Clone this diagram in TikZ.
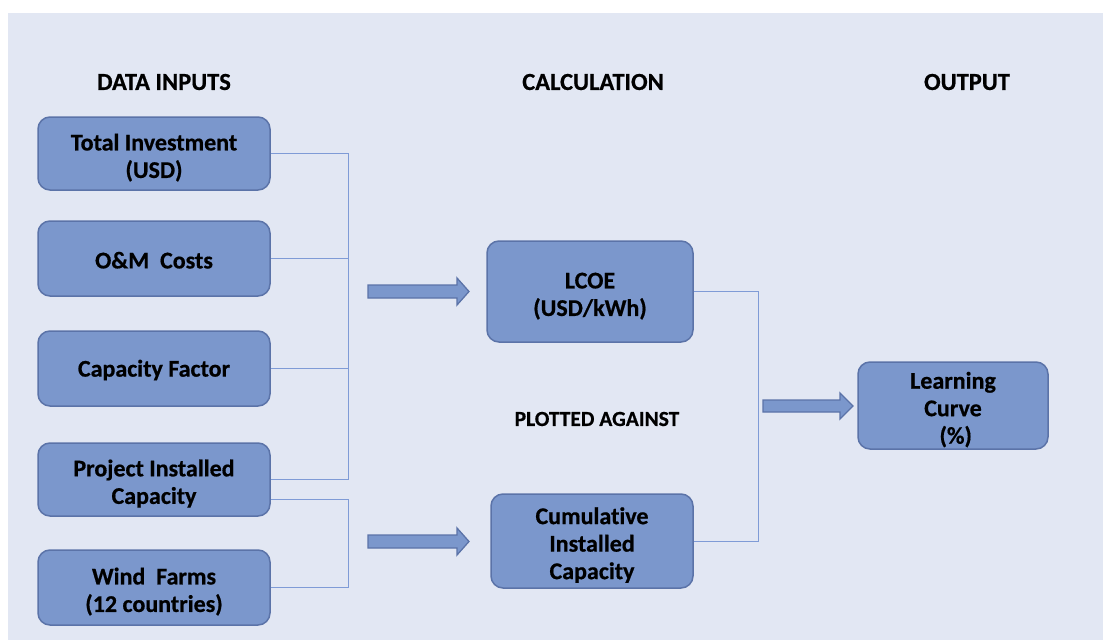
\documentclass[tikz,border=0pt]{standalone}
\usepackage{fontspec}
\setmainfont{Carlito}
\newfontfamily\heavy{Carlito Bold}[FakeBold=0.6, Ligatures=NoCommon]
\definecolor{bgc}{HTML}{E2E7F3}
\definecolor{boxfill}{HTML}{7B97CC}
\definecolor{boxdraw}{HTML}{5B73A8}
\definecolor{linec}{HTML}{7F9BD6}
\newcommand{\topstrut}{\rule{0pt}{25pt}}
\begin{document}
\begin{tikzpicture}[x=1pt,y=-1pt,
  box/.style={draw=boxdraw, fill=boxfill, line width=1.5pt, rounded corners=12pt,
    align=center, inner sep=0pt, font=\heavy\fontsize{24}{27.5}\selectfont},
  head/.style={font=\heavy\fontsize{24.5}{28}\selectfont},
  conn/.style={draw=linec, line width=1pt},
  blockarrow/.style={draw=boxdraw, fill=boxfill, line width=1.3pt, line join=miter}]
\useasboundingbox (0,0) rectangle (1103,640);
\fill[white] (0,0) rectangle (1103,640);
\fill[bgc] (8,13) rectangle (1103,640);
% headings
\node[head] (h1) at (164,82) {DATA INPUTS};
\node[head] (h2) at (593,82) {CALCULATION};
\node[head] (h3) at (967,82) {OUTPUT};
\node[font=\heavy\fontsize{21.5}{25}\selectfont] (pa) at (597,419) {PLOTTED AGAINST};
% input boxes
\node[box, minimum width=232, minimum height=73] (ti) at (154,153.5) {\topstrut Total Investment\\(USD)};
\node[box, minimum width=232, minimum height=75] (om) at (154,258.5) {\rule{0pt}{20pt}O\&M~~Costs};
\node[box, minimum width=232, minimum height=75] (cf) at (154,368.5) {\rule{0pt}{20pt}Capacity Factor};
\node[box, minimum width=232, minimum height=73] (pic) at (154,479.5) {\topstrut Project Installed\\Capacity};
\node[box, minimum width=232, minimum height=75] (wf) at (154,587.5) {\topstrut Wind~~Farms\\(12 countries)};
% calculation boxes
\node[box, minimum width=206, minimum height=101] (lcoe) at (590,291.5) {\topstrut LCOE\\(USD/kWh)};
\node[box, minimum width=202, minimum height=94] (cum) at (592,541) {\topstrut Cumulative\\Installed\\Capacity};
% output
\node[box, minimum width=190, minimum height=87] (lc) at (953,405.5) {\topstrut Learning\\Curve\\\ (\%)};
% junctions
\coordinate (j1t) at (348,153.5);
\coordinate (j1b) at (348,479);
\coordinate (j2t) at (348,499);
\coordinate (j2b) at (348,587.5);
\coordinate (j3t) at (758,291.5);
\coordinate (j3b) at (758,541.5);
\draw[conn] (ti.east) -- (j1t) -- (j1b) -- (pic.east |- j1b);
\draw[conn] (om.east) -- (om.east -| j1t);
\draw[conn] (cf.east) -- (cf.east -| j1t);
\draw[conn] (pic.east |- j2t) -- (j2t) -- (j2b) -- (wf.east);
\draw[conn] (lcoe.east) -- (j3t) -- (j3b) -- (cum.east |- j3b);
% block arrows
\draw[blockarrow] (368,285) -- (457,285) -- (457,278) -- (469,291.5) -- (457,305) -- (457,298) -- (368,298) -- cycle;
\draw[blockarrow] (368,535) -- (457,535) -- (457,528) -- (469,541.5) -- (457,555) -- (457,548) -- (368,548) -- cycle;
\draw[blockarrow] (763,400) -- (840,400) -- (840,393) -- (853,406) -- (840,419) -- (840,412) -- (763,412) -- cycle;
\end{tikzpicture}
\end{document}
